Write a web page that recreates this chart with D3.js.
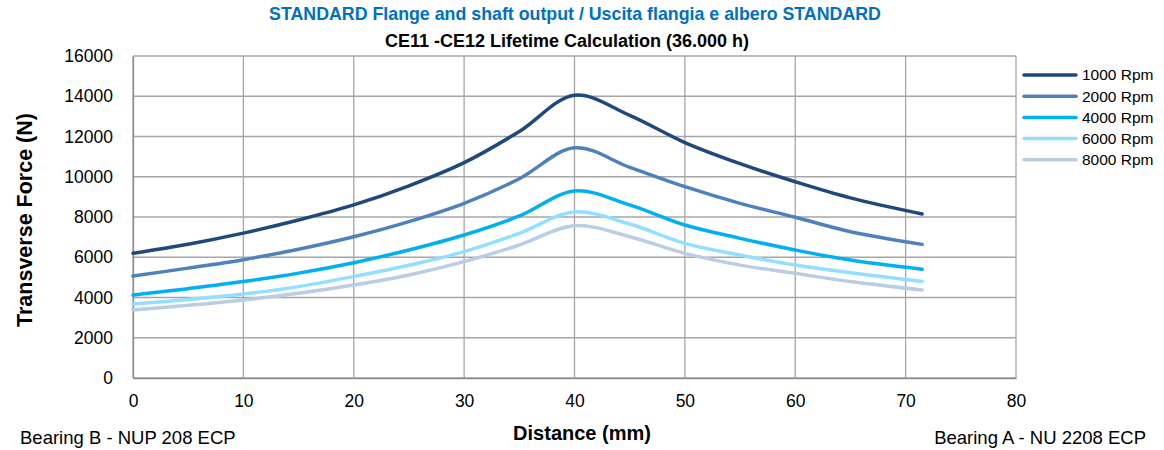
<!DOCTYPE html>
<html>
<head>
<meta charset="utf-8">
<script src="https://cdn.jsdelivr.net/npm/d3@7"></script>
<style>
  body { margin: 0; background: #fff; }
  svg { font-family: "Liberation Sans", Arial, sans-serif; }
</style>
</head>
<body>
<svg width="1164" height="450"></svg>
<script>
// data
const distances = [0, 5, 10, 15, 20, 25, 30, 35, 40, 45, 50, 55, 60, 65, 71.5];
const rpm1000 = [6200, 6650, 7200, 7850, 8600, 9550, 10700, 12250, 14050, 13050, 11700, 10650, 9750, 8950, 8150];
const rpm2000 = [5070, 5460, 5880, 6400, 7020, 7770, 8680, 9900, 11440, 10470, 9510, 8680, 7985, 7270, 6640];
const rpm4000 = [4120, 4440, 4790, 5210, 5730, 6360, 7105, 8050, 9290, 8600, 7600, 6940, 6360, 5860, 5400];
const rpm6000 = [3680, 3900, 4170, 4540, 5040, 5600, 6280, 7190, 8250, 7650, 6690, 6110, 5610, 5230, 4800];
const rpm8000 = [3380, 3610, 3880, 4210, 4620, 5120, 5780, 6610, 7570, 7020, 6190, 5610, 5200, 4790, 4370];
const seriesNames = ["1000 Rpm", "2000 Rpm", "4000 Rpm", "6000 Rpm", "8000 Rpm"];
const xTicks = [0, 10, 20, 30, 40, 50, 60, 70, 80];
const yTicks = [0, 2000, 4000, 6000, 8000, 10000, 12000, 14000, 16000];

const colors = ["#1f497d", "#4f81bd", "#00b0f0", "#93dfff", "#b9cde5"];
const series = [rpm1000, rpm2000, rpm4000, rpm6000, rpm8000];

let svg = d3.select("svg");
let pLeft = 133, pRight = 1016, pTop = 56, pBottom = 378;

let x = d3.scaleLinear().domain([0, 80]).range([pLeft, pRight]);
let y = d3.scaleLinear().domain([0, 16000]).range([pBottom, pTop]);

// grid
svg.append("g").selectAll("line.h")
  .data(yTicks).enter().append("line")
    .attr("x1", pLeft).attr("x2", pRight)
    .attr("y1", d => y(d)).attr("y2", d => y(d))
    .attr("stroke", "#a6a6a6").attr("stroke-width", 1.3);
svg.append("g").selectAll("line.v")
  .data(xTicks).enter().append("line")
    .attr("x1", d => x(d)).attr("x2", d => x(d))
    .attr("y1", pTop).attr("y2", pBottom)
    .attr("stroke", "#a6a6a6").attr("stroke-width", 1.3);

// axes
let xAxis = svg.append("g")
  .attr("transform", "translate(0," + pBottom + ")")
  .call(d3.axisBottom(x).tickValues(xTicks).tickSize(0).tickPadding(17));
let yAxis = svg.append("g")
  .attr("transform", "translate(" + pLeft + ",0)")
  .call(d3.axisLeft(y).tickValues(yTicks).tickSize(0).tickPadding(20).tickFormat(d3.format("d")));
[xAxis, yAxis].forEach(a => {
  a.select(".domain").attr("stroke", "#8c8c8c").attr("stroke-width", 1.3);
  a.selectAll("text").attr("fill", "#000")
    .attr("font-family", "'Liberation Sans', sans-serif")
    .style("font-size", "17.5px");
});

// lines
let line = d3.line()
  .x((d, i) => x(distances[i]))
  .y(d => y(d))
  .curve(d3.curveCatmullRom.alpha(0.5));

svg.append("g").selectAll("path")
  .data(series).enter().append("path")
    .attr("d", d => line(d))
    .attr("fill", "none")
    .attr("stroke", (d, i) => colors[i])
    .attr("stroke-width", 3.5)
    .attr("stroke-linecap", "round");

// titles
svg.append("text").attr("x", 575).attr("y", 20).attr("text-anchor", "middle")
  .attr("font-weight", "bold").attr("fill", "#0070c0")
  .style("font-size", "17.8px")
  .text("STANDARD Flange and shaft output / Uscita flangia e albero STANDARD");
svg.append("text").attr("x", 567).attr("y", 47).attr("text-anchor", "middle")
  .attr("font-weight", "bold").attr("fill", "#000")
  .style("font-size", "18px")
  .text("CE11 -CE12 Lifetime Calculation (36.000 h)");

svg.append("text")
  .attr("transform", "translate(32,220) rotate(-90)")
  .attr("text-anchor", "middle").attr("font-weight", "bold")
  .style("font-size", "21.5px")
  .text("Transverse Force (N)");

svg.append("text").attr("x", 582).attr("y", 440).attr("text-anchor", "middle")
  .attr("font-weight", "bold")
  .style("font-size", "20px")
  .text("Distance (mm)");

svg.append("text").attr("x", 20).attr("y", 444)
  .style("font-size", "18.5px")
  .text("Bearing B - NUP 208 ECP");
svg.append("text").attr("x", 1146).attr("y", 444).attr("text-anchor", "end")
  .style("font-size", "18.5px")
  .text("Bearing A - NU 2208 ECP");

// legend
let legend = svg.append("g").selectAll("g")
  .data(seriesNames).enter().append("g")
    .attr("transform", (d, i) => "translate(1024," + (75 + i * 21.2) + ")");
legend.append("line").attr("x1", 0).attr("x2", 52)
  .attr("stroke", (d, i) => colors[i]).attr("stroke-width", 3.5).attr("stroke-linecap", "round");
legend.append("text").attr("x", 58).attr("dy", "0.35em")
  .style("font-size", "15.5px").text(d => d);
</script>
</body>
</html>
